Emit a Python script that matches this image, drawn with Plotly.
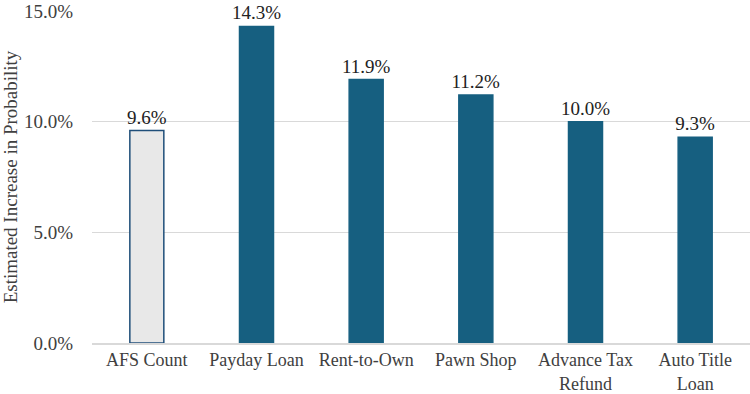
import plotly.graph_objects as go

categories = ["AFS Count", "Payday Loan", "Rent-to-Own", "Pawn Shop", "Advance Tax<br>Refund", "Auto Title<br>Loan"]
values = [9.6, 14.3, 11.9, 11.2, 10.0, 9.3]
labels = ["9.6%", "14.3%", "11.9%", "11.2%", "10.0%", "9.3%"]
fills = ["#e8e8e8", "#165f80", "#165f80", "#165f80", "#165f80", "#165f80"]
outlines = ["#1f4e79", "#165f80", "#165f80", "#165f80", "#165f80", "#165f80"]

font = "Times New Roman"

fig = go.Figure(go.Bar(
    x=categories, y=values, text=labels, textposition="outside",
    constraintext="none",
    textfont=dict(family=font, size=19, color="#222"),
    marker=dict(color=fills, line=dict(color=outlines, width=1.5)),
    width=0.31, cliponaxis=False,
))
fig.update_layout(
    template="none",
    width=750, height=394,
    margin=dict(l=92, r=0, t=11, b=51),
    paper_bgcolor="white", plot_bgcolor="white",
    showlegend=False,
    font=dict(family=font, size=18, color="#404040"),
    yaxis=dict(range=[0, 15], tickvals=[0, 5, 10, 15], ticktext=["0.0%", "5.0%", "10.0%", "15.0%"],
               showgrid=True, gridcolor="#d9d9d9", gridwidth=1, zeroline=False,
               ticklabeloverflow="allow",
               title=dict(text="Estimated Increase in Probability", font=dict(size=19, family=font, color="#404040"), standoff=8),
               tickfont=dict(size=19, family=font, color="#404040"), ticks="outside", ticklen=14, tickcolor="rgba(0,0,0,0)", showline=False),
    xaxis=dict(showline=True, linecolor="#d9d9d9", linewidth=1.5, ticks="", showgrid=False,
               tickfont=dict(size=18, family=font, color="#404040")),
)
fig.write_html("out.html")
